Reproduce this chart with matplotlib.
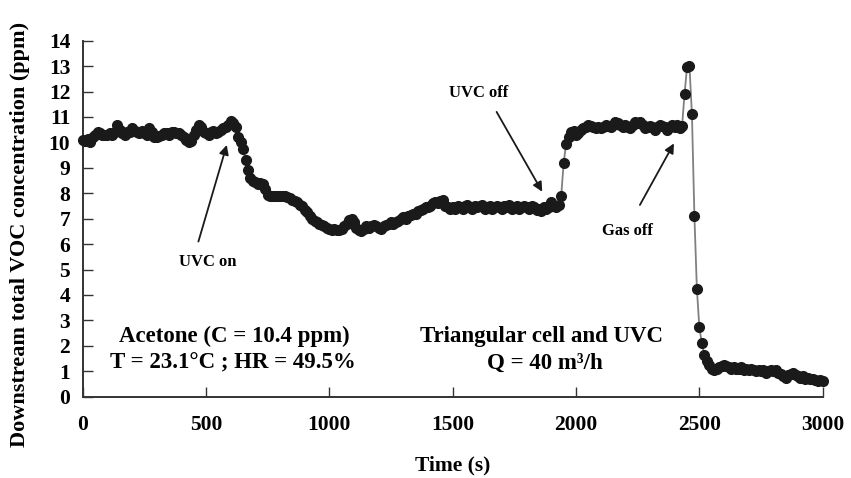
import numpy as np
import matplotlib
matplotlib.use("Agg")
import matplotlib.pyplot as plt

# total VOC downstream, one reading every 10 s from 0 to 3000 s
time_step = 10
voc_ppm = [
    10.1, 10.05, 10.15, 10.0, 10.2, 10.3, 10.4, 10.35, 10.3, 10.3,
    10.3, 10.35, 10.3, 10.4, 10.7, 10.5, 10.35, 10.3, 10.4, 10.4,
    10.55, 10.45, 10.4, 10.35, 10.45, 10.35, 10.3, 10.55, 10.4, 10.2,
    10.2, 10.25, 10.3, 10.35, 10.35, 10.3, 10.4, 10.4, 10.35, 10.35,
    10.3, 10.2, 10.1, 10.0, 10.05, 10.3, 10.5, 10.7, 10.6, 10.4,
    10.35, 10.3, 10.4, 10.45, 10.35, 10.4, 10.5, 10.55, 10.6, 10.7,
    10.85, 10.75, 10.6, 10.2, 10.0, 9.75, 9.3, 8.9, 8.6, 8.5,
    8.45, 8.35, 8.4, 8.35, 8.15, 7.95, 7.9, 7.9, 7.9, 7.9,
    7.9, 7.9, 7.9, 7.85, 7.8, 7.75, 7.7, 7.65, 7.55, 7.5,
    7.35, 7.25, 7.1, 7.0, 6.9, 6.85, 6.8, 6.75, 6.7, 6.65,
    6.6, 6.55, 6.6, 6.55, 6.55, 6.6, 6.7, 6.8, 6.95, 7.0,
    6.85, 6.65, 6.55, 6.5, 6.6, 6.7, 6.65, 6.7, 6.75, 6.7,
    6.65, 6.6, 6.7, 6.75, 6.8, 6.85, 6.8, 6.85, 6.9, 7.0,
    7.05, 7.0, 7.1, 7.15, 7.2, 7.2, 7.3, 7.35, 7.4, 7.45,
    7.45, 7.5, 7.6, 7.65, 7.6, 7.7, 7.75, 7.5, 7.45, 7.4,
    7.45, 7.4, 7.5, 7.45, 7.4, 7.5, 7.55, 7.45, 7.4, 7.5,
    7.45, 7.5, 7.55, 7.4, 7.45, 7.5, 7.4, 7.45, 7.5, 7.45,
    7.4, 7.5, 7.45, 7.55, 7.4, 7.45, 7.5, 7.4, 7.45, 7.5,
    7.45, 7.4, 7.5, 7.45, 7.35, 7.4, 7.3, 7.45, 7.4, 7.45,
    7.65, 7.5, 7.45, 7.55, 7.9, 9.2, 9.95, 10.2, 10.4, 10.45,
    10.3, 10.35, 10.5, 10.55, 10.6, 10.7, 10.65, 10.6, 10.55, 10.6,
    10.55, 10.6, 10.7, 10.65, 10.6, 10.7, 10.8, 10.75, 10.7, 10.6,
    10.7, 10.6, 10.55, 10.7, 10.8, 10.75, 10.8, 10.7, 10.55, 10.6,
    10.65, 10.6, 10.5, 10.6, 10.7, 10.65, 10.6, 10.5, 10.6, 10.7,
    10.6, 10.7, 10.55, 10.65, 11.9, 12.95, 13.0, 11.1, 7.1, 4.25,
    2.73, 2.1, 1.65, 1.4, 1.25, 1.1, 1.05, 1.1, 1.15, 1.2,
    1.25, 1.2, 1.15, 1.1, 1.15, 1.1, 1.1, 1.15, 1.05, 1.1,
    1.05, 1.1, 1.05, 1.0, 1.05, 1.0, 1.05, 0.95, 1.0, 1.05,
    1.0, 1.05, 0.95, 0.9, 0.8, 0.75, 0.85, 0.9, 0.95, 0.85,
    0.8, 0.75, 0.8, 0.7, 0.75, 0.7, 0.7, 0.65, 0.6, 0.65,
    0.6,
]
time_s = np.arange(len(voc_ppm)) * time_step

x_ticks = [0, 500, 1000, 1500, 2000, 2500, 3000]
y_ticks = list(range(0, 15))

plt.rcParams["font.family"] = ["Liberation Serif", "DejaVu Serif"]
plt.rcParams["font.weight"] = "bold"

fig = plt.figure(figsize=(8.51, 4.78), dpi=100)
ax = fig.add_axes([0.0972, 0.1701, 0.8695, 0.7448])

ax.plot(time_s, voc_ppm, color="#808080", lw=1.3, marker="o", ms=7,
        mfc="#1a1a1a", mec="#1a1a1a", zorder=3, clip_on=False)

ax.set_xlim(0, 3000)
ax.set_ylim(0, 14)
ax.set_xticks(x_ticks)
ax.set_yticks(y_ticks)
ax.tick_params(axis="both", direction="in", length=7, width=1,
               color="#333333", labelsize=15.5)
ax.tick_params(axis="x", pad=13)
ax.tick_params(axis="y", pad=9)
for lab in ax.get_xticklabels() + ax.get_yticklabels():
    lab.set_fontweight("bold")
for side in ["top", "right"]:
    ax.spines[side].set_visible(False)
for side in ["left", "bottom"]:
    ax.spines[side].set_linewidth(1.4)
    ax.spines[side].set_color("#333333")

ax.set_xlabel("Time (s)", fontsize=15.5, fontweight="bold")
ax.xaxis.set_label_coords(0.5, -0.165)
ax.set_ylabel("Downstream total VOC concentration (ppm)", fontsize=16,
              fontweight="bold")
ax.yaxis.set_label_coords(-0.071, 0.455)

arrow = dict(arrowstyle="-|>", color="#1a1a1a", lw=1.3,
             mutation_scale=14, shrinkA=0, shrinkB=0)
ax.annotate("", xy=(584, 9.9), xytext=(469, 6.1), arrowprops=arrow)
ax.text(505, 5.3, "UVC on", fontsize=12, fontweight="bold",
        ha="center", va="center")
ax.annotate("", xy=(1863, 8.06), xytext=(1678, 11.2), arrowprops=arrow)
ax.text(1605, 11.95, "UVC off", fontsize=12, fontweight="bold",
        ha="center", va="center")
ax.annotate("", xy=(2397, 9.96), xytext=(2259, 7.54), arrowprops=arrow)
ax.text(2210, 6.53, "Gas off", fontsize=12, fontweight="bold",
        ha="center", va="center")

ax.text(615, 2.38, "Acetone (C = 10.4 ppm)", fontsize=16.5, fontweight="bold",
        ha="center", va="center")
ax.text(610, 1.33, "T = 23.1°C ; HR = 49.5%", fontsize=16.5, fontweight="bold",
        ha="center", va="center")
ax.text(1860, 2.38, "Triangular cell and UVC", fontsize=16.5,
        fontweight="bold", ha="center", va="center")
ax.text(1875, 1.33, "Q = 40 m³/h", fontsize=16.5, fontweight="bold",
        ha="center", va="center")

fig.savefig("out.png", dpi=100)
